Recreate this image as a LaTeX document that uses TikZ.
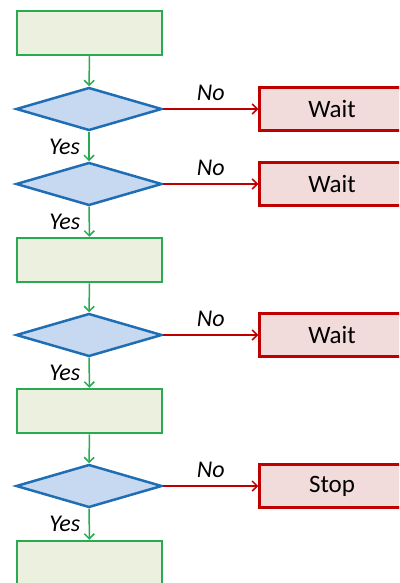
\documentclass[tikz,border=0pt]{standalone}
\usepackage{fontspec}
\setmainfont{Carlito}
\usetikzlibrary{shapes.geometric,arrows.meta}
\definecolor{okline}{RGB}{40,170,80}
\definecolor{okfill}{RGB}{235,241,222}
\definecolor{askline}{RGB}{31,110,180}
\definecolor{askfill}{RGB}{198,217,241}
\definecolor{noline}{RGB}{192,0,0}
\definecolor{nofill}{RGB}{242,220,219}
\tikzset{
  okbox/.style={draw=okline, fill=okfill, line width=2.5pt, minimum width=145pt, minimum height=44pt, inner sep=0pt},
  askbox/.style={diamond, draw=askline, fill=askfill, line width=2.5pt, minimum width=146pt, minimum height=43pt, aspect=3.4, inner sep=0pt},
  waitbox/.style={draw=noline, fill=nofill, line width=2.5pt, minimum width=145pt, minimum height=43pt, inner sep=0pt},
  yesarrow/.style={draw=okline, line width=1.5pt, -{Straight Barb[length=5pt,width=10pt]}},
  noarrow/.style={draw=noline, line width=1.5pt, -{Straight Barb[length=5pt,width=10pt]}},
  lbl/.style={font=\fontsize{24}{28}\selectfont\itshape}
}
\begin{document}
\begin{tikzpicture}[x=1pt, y=-1pt, font=\fontsize{25}{29}\selectfont]
        % Page frame, pixel units
        \useasboundingbox (0,0) rectangle (399,583);
        \clip (0,0) rectangle (399,583);
        % Plain steps
        \node[okbox] (s1) at (89.5,33) {};
        \node[okbox] (s2) at (89.5,260) {};
        \node[okbox] (s3) at (89.5,411) {};
        \node[okbox] (s4) at (89.5,563) {};
        % Checks with their No branch
        \foreach \n/\y/\t in {1/109/Wait, 2/184/Wait, 3/335/Wait, 4/486/Stop} {
          \node[askbox] (q\n) at (89,\y) {};
          \node[waitbox] (w\n) at (332,\y) {\t};
          \draw[noarrow] (q\n.east) -- node[lbl, midway, above=4pt] {No} (w\n.west);
        }
        % Main line
        \draw[yesarrow] (s1) -- (q1);
        \draw[yesarrow] (q1) -- node[lbl, midway, left=5pt] {Yes} (q2);
        \draw[yesarrow] (q2) -- node[lbl, midway, left=5pt] {Yes} (s2);
        \draw[yesarrow] (s2) -- (q3);
        \draw[yesarrow] (q3) -- node[lbl, midway, left=5pt] {Yes} (s3);
        \draw[yesarrow] (s3) -- (q4);
        \draw[yesarrow] (q4) -- node[lbl, midway, left=5pt] {Yes} (s4);
      \end{tikzpicture}
\end{document}
